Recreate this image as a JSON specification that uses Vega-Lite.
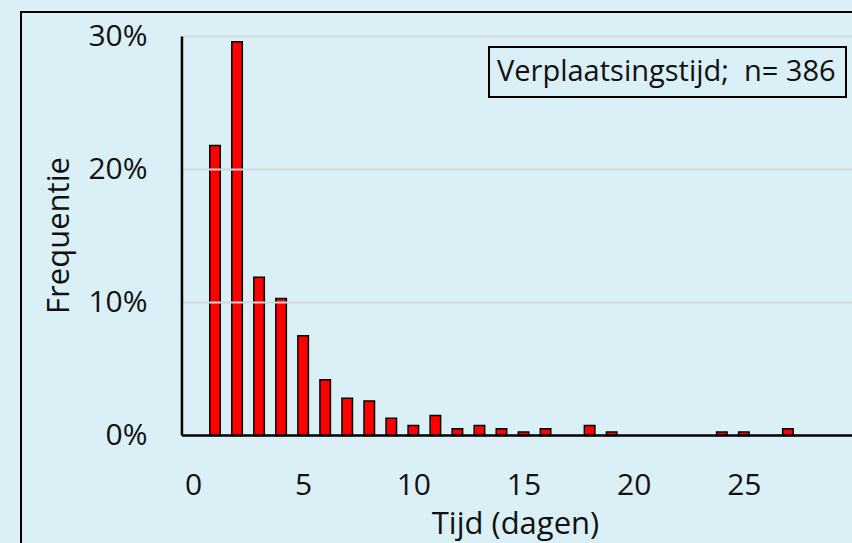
{
  "$schema": "https://vega.github.io/schema/vega-lite/v6.json",
  "width": 841,
  "height": 541,
  "autosize": {"type": "none"},
  "padding": {"left": 21, "top": 12, "right": -10, "bottom": -10},
  "background": "#DAF0F6",
  "config": {
    "view": {"stroke": "#000000", "strokeWidth": 2, "fill": null},
    "font": "Open Sans",
    "legend": {"strokeWidth": 2}
  },
  "datasets": {
    "bars": [
      {"dag": 1, "pct": 21.8, "serie": "Verplaatsingstijd;\u00a0 n= 386"},
      {"dag": 2, "pct": 29.6, "serie": "Verplaatsingstijd;\u00a0 n= 386"},
      {"dag": 3, "pct": 11.9, "serie": "Verplaatsingstijd;\u00a0 n= 386"},
      {"dag": 4, "pct": 10.3, "serie": "Verplaatsingstijd;\u00a0 n= 386"},
      {"dag": 5, "pct": 7.5, "serie": "Verplaatsingstijd;\u00a0 n= 386"},
      {"dag": 6, "pct": 4.2, "serie": "Verplaatsingstijd;\u00a0 n= 386"},
      {"dag": 7, "pct": 2.8, "serie": "Verplaatsingstijd;\u00a0 n= 386"},
      {"dag": 8, "pct": 2.6, "serie": "Verplaatsingstijd;\u00a0 n= 386"},
      {"dag": 9, "pct": 1.3, "serie": "Verplaatsingstijd;\u00a0 n= 386"},
      {"dag": 10, "pct": 0.75, "serie": "Verplaatsingstijd;\u00a0 n= 386"},
      {"dag": 11, "pct": 1.5, "serie": "Verplaatsingstijd;\u00a0 n= 386"},
      {"dag": 12, "pct": 0.5, "serie": "Verplaatsingstijd;\u00a0 n= 386"},
      {"dag": 13, "pct": 0.75, "serie": "Verplaatsingstijd;\u00a0 n= 386"},
      {"dag": 14, "pct": 0.5, "serie": "Verplaatsingstijd;\u00a0 n= 386"},
      {"dag": 15, "pct": 0.26, "serie": "Verplaatsingstijd;\u00a0 n= 386"},
      {"dag": 16, "pct": 0.5, "serie": "Verplaatsingstijd;\u00a0 n= 386"},
      {"dag": 18, "pct": 0.75, "serie": "Verplaatsingstijd;\u00a0 n= 386"},
      {"dag": 19, "pct": 0.26, "serie": "Verplaatsingstijd;\u00a0 n= 386"},
      {"dag": 24, "pct": 0.26, "serie": "Verplaatsingstijd;\u00a0 n= 386"},
      {"dag": 25, "pct": 0.26, "serie": "Verplaatsingstijd;\u00a0 n= 386"},
      {"dag": 27, "pct": 0.5, "serie": "Verplaatsingstijd;\u00a0 n= 386"}
    ],
    "grid": [{"pct": 10}, {"pct": 20}, {"pct": 30}],
    "axisline": [{"as": "y"}]
  },
  "layer": [
    {
      "data": {"name": "bars"},
      "mark": {"type": "bar", "width": 10.5, "stroke": "#000000", "strokeWidth": 1.5},
      "encoding": {
        "x": {
          "field": "dag", "type": "quantitative",
          "scale": {"domain": [-7.578, 30.135]},
          "axis": {
            "orient": "bottom", "offset": -83, "values": [0, 5, 10, 15, 20, 25],
            "domain": false, "ticks": false, "tickSize": 0, "grid": false,
            "labelPadding": 0, "labelFontSize": 30, "labelFont": "Open Sans", "labelColor": "#111111",
            "labelBaseline": "top", "labelFlush": false, "labelOverlap": false,
            "title": "Tijd (dagen)", "titleFont": "Open Sans", "titleFontSize": 31, "titleFontWeight": "normal",
            "titleColor": "#111111", "titleX": 494, "titleY": 63, "titleAlign": "center", "titleBaseline": "alphabetic"
          }
        },
        "y": {
          "field": "pct", "type": "quantitative",
          "scale": {"domain": [-8.835, 31.842]},
          "axis": {
            "orient": "left", "offset": -126, "values": [0, 10, 20, 30],
            "labelExpr": "datum.value + '%'",
            "domain": false, "ticks": false, "tickSize": 0, "grid": false,
            "labelPadding": 0, "labelFontSize": 30, "labelFont": "Open Sans", "labelColor": "#111111",
            "labelBaseline": "middle",
            "title": "Frequentie", "titleFont": "Open Sans", "titleFontSize": 31, "titleFontWeight": "normal",
            "titleColor": "#111111", "titleX": -79, "titleY": 223, "titleAngle": -90, "titleAlign": "center", "titleBaseline": "alphabetic"
          }
        },
        "y2": {"datum": 0},
        "color": {
          "field": "serie", "type": "nominal",
          "scale": {"range": ["#FF0000"]},
          "legend": {
            "title": null, "orient": "none", "legendX": 468, "legendY": 35,
            "strokeColor": "#000000", "padding": 10,
            "symbolSize": 0, "symbolStrokeWidth": 0, "symbolOpacity": 0, "labelOffset": -31,
            "labelFont": "Open Sans", "labelFontSize": 29, "labelColor": "#111111", "labelLimit": 0
          }
        }
      }
    },
    {
      "data": {"name": "grid"},
      "mark": {"type": "rule", "color": "#D3D7D9", "strokeWidth": 2, "clip": true},
      "encoding": {
        "y": {"field": "pct", "type": "quantitative", "scale": {"domain": [-8.835, 31.842]}},
        "x": {"datum": -0.5, "type": "quantitative", "scale": {"domain": [-7.578, 30.135]}},
        "x2": {"datum": 30.135}
      }
    },
    {
      "data": {"name": "axisline"},
      "mark": {"type": "rule", "color": "#000000", "strokeWidth": 2.5},
      "encoding": {
        "x": {"datum": -0.5, "type": "quantitative", "scale": {"domain": [-7.578, 30.135]}},
        "y": {"datum": 0, "type": "quantitative", "scale": {"domain": [-8.835, 31.842]}},
        "y2": {"datum": 30}
      }
    },
    {
      "data": {"name": "axisline"},
      "mark": {"type": "rule", "color": "#000000", "strokeWidth": 2.5, "clip": true},
      "encoding": {
        "x": {"datum": -0.5, "type": "quantitative", "scale": {"domain": [-7.578, 30.135]}},
        "x2": {"datum": 30.135},
        "y": {"datum": 0, "type": "quantitative", "scale": {"domain": [-8.835, 31.842]}}
      }
    }
  ]
}
